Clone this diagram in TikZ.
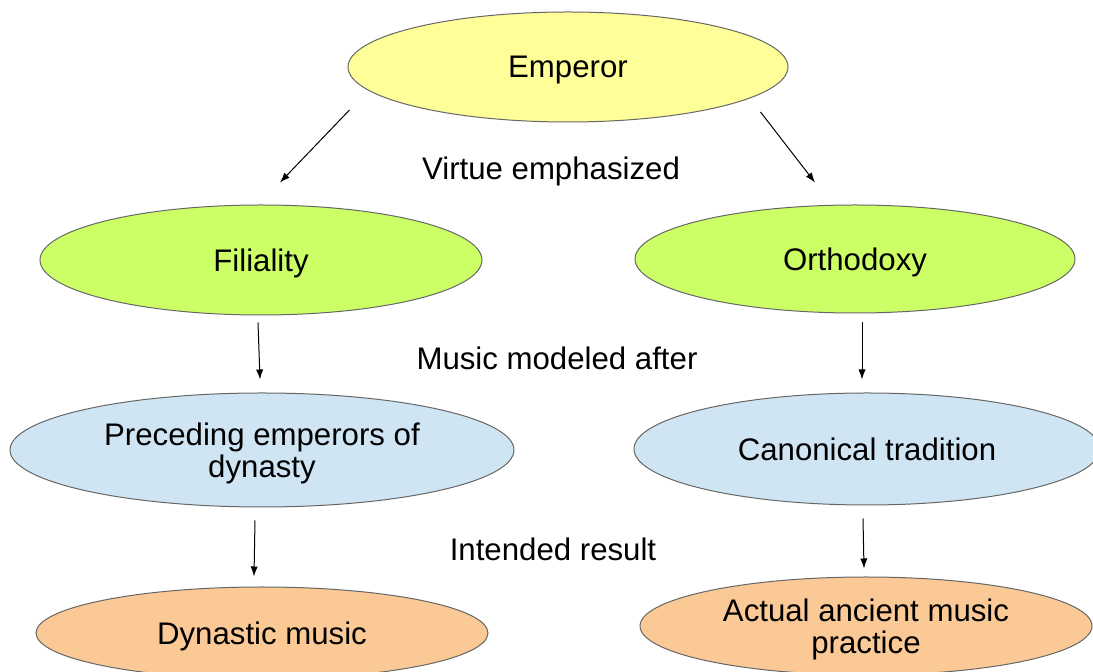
\documentclass[tikz,border=0pt]{standalone}
\usepackage{fontspec}
\setmainfont{Liberation Sans}
\usepackage{tikz}
\usetikzlibrary{arrows.meta,calc,shapes}
\definecolor{empyellow}{HTML}{FFFF99}
\definecolor{virtgreen}{HTML}{CCFF66}
\definecolor{modelblue}{HTML}{CFE5F3}
\definecolor{resorange}{HTML}{FAC996}
\tikzset{oval/.style={
    ellipse,
    draw=gray!80!black,
    line width=0.5pt,
    inner sep=0pt,
    align=center,
    text depth=0pt,
    minimum width=#1
  },
  oval/.default=220pt,
  arr/.style={-{Latex[length=5pt,width=3.6pt]}, line width=0.5pt},
  lbl/.style={inner sep=0pt, text depth=0pt}
}

\begin{document}
\begin{tikzpicture}[x=0.5pt, y=-0.5pt, font=\fontsize{15.6}{16}\selectfont]
    \useasboundingbox (0,0) rectangle (1093,672);
    \node[oval, fill=empyellow, minimum height=55pt] (emp) at (568,67) {Emperor};
    \node[oval=221pt, fill=virtgreen, minimum height=55pt] (fil) at (261,260) {Filiality};
    \node[oval, fill=virtgreen, minimum height=54pt] (orth) at (855,259) {Orthodoxy};
    \node[oval=252pt, fill=modelblue, minimum height=57pt] (prec) at (262,450) {Preceding emperors of\\dynasty};
    \node[oval=233pt, fill=modelblue, minimum height=56pt] (canon) at (867,449) {Canonical tradition};
    \node[oval=226pt, fill=resorange, minimum height=46pt] (dyn) at (262,633) {Dynastic music};
    \node[oval=226pt, fill=resorange, minimum height=49pt] (actual) at (866,626) {Actual ancient music\\practice};
    % labels between the rows
    \node[lbl] (virtue) at (551,168) {Virtue emphasized};
    \node[lbl] (modeled) at (557,358) {Music modeled after};
    \node[lbl] (intended) at (553,549) {Intended result};
    % arrows
    \draw[arr] ($(emp.west)+(2,43)$) -- ($(fil.north)+(19,-22)$);
    \draw[arr] ($(emp.east)+(-28,45)$) -- ($(orth.north)+(-40,-22)$);
    \draw[arr] ($(fil.south)+(-3,7)$) -- ($(prec.north)+(-2,-13)$);
    \draw[arr] ($(orth.south)+(7,9)$) -- ($(canon.north)+(-5,-13)$);
    \draw[arr] ($(prec.south)+(-7,13)$) -- ($(dyn.north)+(-8,-10)$);
    \draw[arr] ($(canon.south)+(-4,13)$) -- ($(actual.north)+(-2,-8)$);
\end{tikzpicture}
\end{document}
